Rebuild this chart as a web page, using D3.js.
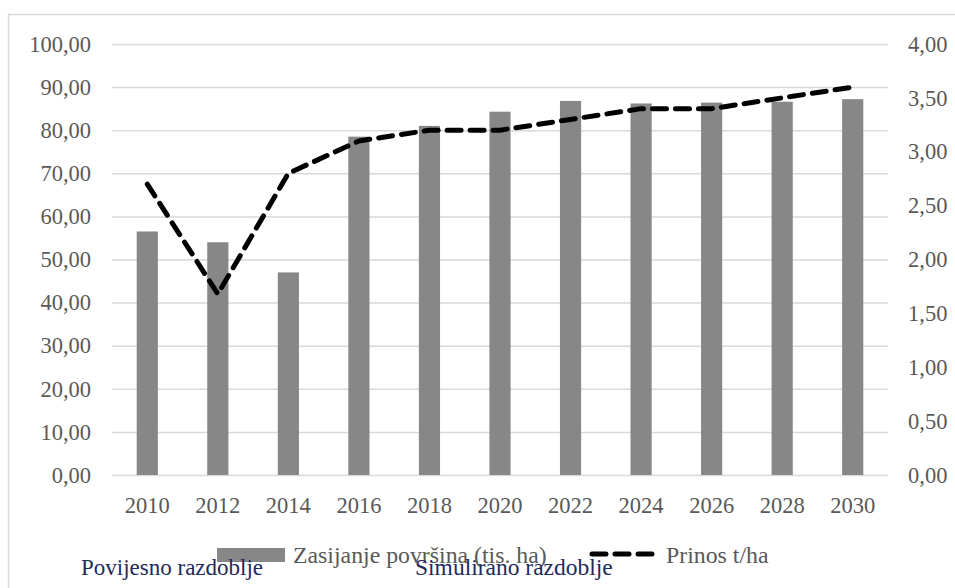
<!DOCTYPE html>
<html><head><meta charset="utf-8">
<script src="https://cdn.jsdelivr.net/npm/d3@7/dist/d3.min.js"></script>
<style>
body{margin:0;background:#fff}svg{display:block}
svg text{font-family:"Liberation Serif","Times New Roman",Tinos,Times,"DejaVu Serif",serif !important;}
</style>
</head><body>
<svg id="c" width="955" height="588"></svg>
<script>
const years = ["2010","2012","2014","2016","2018","2020","2022","2024","2026","2028","2030"];
const area = [56.5, 54.0, 47.0, 78.5, 81.0, 84.3, 86.8, 86.2, 86.4, 86.6, 87.2];
const yieldT = [2.70, 1.68, 2.80, 3.10, 3.20, 3.20, 3.30, 3.40, 3.40, 3.50, 3.60];
const leftTicks = [0,10,20,30,40,50,60,70,80,90,100];
const rightTicks = [0,0.5,1,1.5,2,2.5,3,3.5,4];
const legendLabels = ["Zasijanje površina (tis. ha)", "Prinos t/ha"];
const periodLabels = ["Povijesno razdoblje", "Simulirano razdoblje"];

const svg = d3.select("#c");
const grey = "#595959";
const fs = 22.5;

svg.append("rect").attr("x",8.5).attr("y",14.5).attr("width",960).attr("height",600)
  .attr("fill","none").attr("stroke","#d9d9d9").attr("stroke-width",1.5);

const L = 112, R = 888, T = 44, B = 475;
const x = d3.scaleBand().domain(years).range([L,R]).paddingInner(0.7).paddingOuter(0.35);
const yL = d3.scaleLinear().domain([0,100]).range([B,T]);
const yR = d3.scaleLinear().domain([0,4]).range([B,T]);
const fmt = d => d3.format(".2f")(d).replace(".", ",");

svg.append("g").selectAll("line").data(leftTicks).join("line")
  .attr("x1",L).attr("x2",R).attr("y1",d=>yL(d)+0.5).attr("y2",d=>yL(d)+0.5)
  .attr("stroke","#d9d9d9").attr("stroke-width",1.5);

const gl = svg.append("g").attr("transform",`translate(${L},0)`)
  .call(d3.axisLeft(yL).tickValues(leftTicks).tickFormat(fmt).tickSize(0).tickPadding(21));
gl.select(".domain").remove();
gl.selectAll("text").attr("font-size",fs).attr("fill",grey);

const gr = svg.append("g").attr("transform",`translate(${R},0)`)
  .call(d3.axisRight(yR).tickValues(rightTicks).tickFormat(fmt).tickSize(0).tickPadding(20));
gr.select(".domain").remove();
gr.selectAll("text").attr("font-size",fs).attr("fill",grey);

const gb = svg.append("g").attr("transform",`translate(0,${B})`)
  .call(d3.axisBottom(x).tickSize(0).tickPadding(22));
gb.select(".domain").remove();
gb.selectAll("text").attr("font-size",fs).attr("fill",grey);

svg.append("g").selectAll("rect").data(area).join("rect")
  .attr("x",(d,i)=>x(years[i])).attr("width",x.bandwidth())
  .attr("y",d=>yL(d)).attr("height",d=>yL(0)-yL(d)).attr("fill","#878787");

const line = d3.line().x((d,i)=>x(years[i])+x.bandwidth()/2).y(d=>yR(d));
svg.append("path").datum(yieldT).attr("d",line).attr("fill","none")
  .attr("stroke","#000").attr("stroke-width",5).attr("stroke-dasharray","14 9")
  .attr("stroke-linecap","round").attr("stroke-linejoin","round");

const lg = svg.append("g");
lg.append("rect").attr("x",217).attr("y",548).attr("width",68).attr("height",14).attr("fill","#878787");
lg.append("text").attr("x",293).attr("y",563).text(legendLabels[0])
  .attr("font-size",23.8).attr("fill",grey);
lg.append("line").attr("x1",592).attr("x2",657).attr("y1",554).attr("y2",554)
  .attr("stroke","#000").attr("stroke-width",5).attr("stroke-dasharray","14 9").attr("stroke-linecap","round");
lg.append("text").attr("x",666).attr("y",563).text(legendLabels[1])
  .attr("font-size",23.8).attr("fill",grey);

svg.append("text").attr("x",81).attr("y",575).text(periodLabels[0])
  .attr("font-size",23).attr("fill","#1f2a5c");
svg.append("text").attr("x",415).attr("y",575).text(periodLabels[1])
  .attr("font-size",23.5).attr("fill","#1f2a5c");
</script>
</body></html>
